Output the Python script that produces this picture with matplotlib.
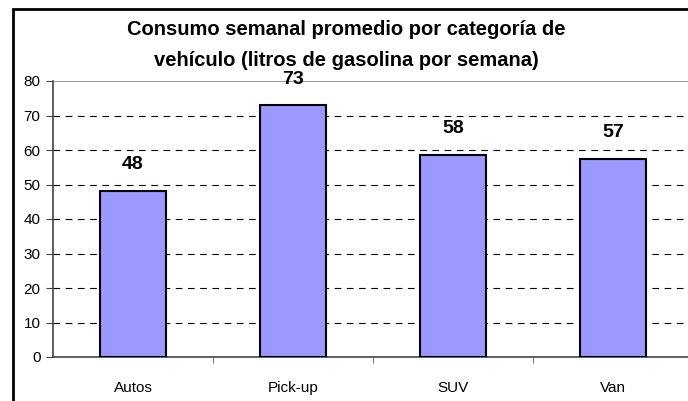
import matplotlib.pyplot as plt
from matplotlib.patches import Rectangle

categorias = ["Autos", "Pick-up", "SUV", "Van"]
consumo = [48.2, 72.9, 58.5, 57.4]
etiquetas = ["48", "73", "58", "57"]
y_ticks = [0, 10, 20, 30, 40, 50, 60, 70, 80]

plt.rcParams['font.family'] = ['Liberation Sans', 'DejaVu Sans']

fig = plt.figure(figsize=(6.88, 4.01), dpi=100)
ax = fig.add_axes([53 / 688, 44 / 401, 640 / 688, 276 / 401])

x = list(range(len(categorias)))
ax.bar(x, consumo, width=0.41, color="#9999FF", edgecolor="black", linewidth=1.5, zorder=3)
for xi, v, t in zip(x, consumo, etiquetas):
    ax.text(xi, v + 5.2, t, ha="center", va="bottom", fontsize=14, fontweight="bold")

ax.set_xlim(-0.5, 3.5)
ax.set_ylim(0, 80)
ax.set_yticks(y_ticks)
ax.set_yticklabels([str(v) for v in y_ticks], fontsize=11)
ax.set_xticks(x)
ax.set_xticklabels(categorias, fontsize=11)
ax.set_xticks([0.5, 1.5, 2.5, 3.5], minor=True)
ax.tick_params(axis="x", which="major", length=0, pad=17)
ax.tick_params(axis="x", which="minor", length=4, color="#555555", direction="out")
ax.tick_params(axis="y", length=5, color="#444444", pad=4)

for v in y_ticks[1:-1]:
    ax.axhline(v, color="black", linestyle=(0, (6, 5)), linewidth=0.8, zorder=1)
ax.axhline(80, color="#888888", linewidth=1.2, zorder=1)

for s in ["top", "right"]:
    ax.spines[s].set_visible(False)
ax.spines["left"].set_color("#444444")
ax.spines["bottom"].set_color("#444444")
ax.spines["left"].set_linewidth(1.2)
ax.spines["bottom"].set_linewidth(1.2)

fig.text(346 / 688, 1 - 45 / 401,
         "Consumo semanal promedio por categoría de\nvehículo (litros de gasolina por semana)",
         ha="center", va="center", fontsize=14.5, fontweight="bold", linespacing=1.75)

fig.patches.append(Rectangle((13 / 688, -0.1), 1.1, 1.1 - 9 / 401, transform=fig.transFigure,
                             fill=False, edgecolor="black", linewidth=2))

fig.savefig("out.png", dpi=100)
